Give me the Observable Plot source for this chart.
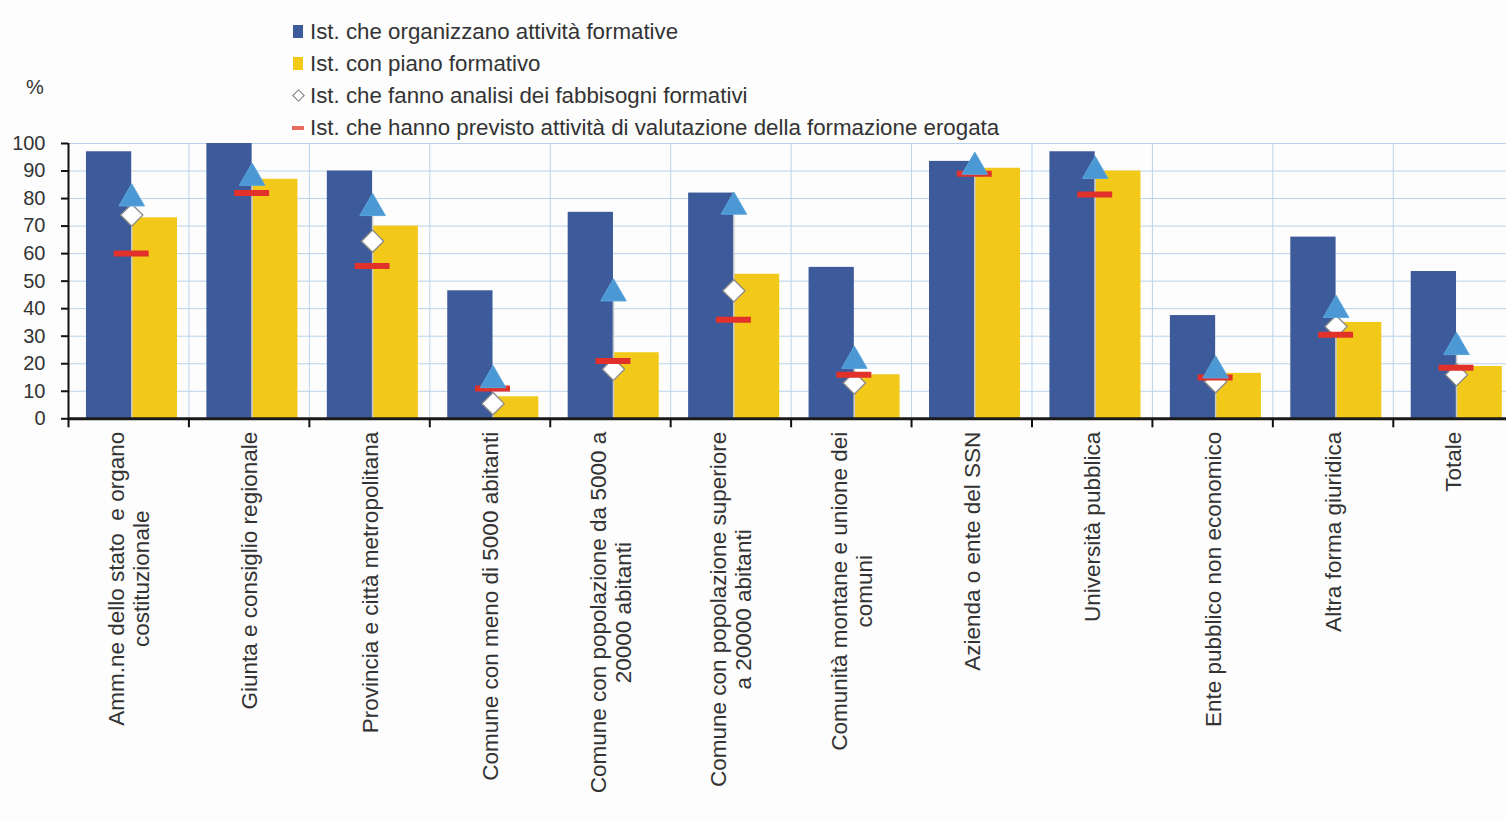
<!DOCTYPE html>
<html>
<head>
<meta charset="utf-8">
<script src="https://cdn.jsdelivr.net/npm/d3@7"></script>
<script src="https://cdn.jsdelivr.net/npm/@observablehq/plot@0.6"></script>
<style>
  body { margin: 0; background: #fdfdfd; font-family: "Liberation Sans", Arial, sans-serif; color: #333; }
  #legend { position: relative; height: 136px; font-size: 22.3px; }
  .item { position: absolute; left: 290px; height: 26px; line-height: 26px; white-space: nowrap; }
  .sym { position: absolute; top: 50%; }
  .txt { position: absolute; left: 20px; top: 0; }
  #pct { position: absolute; left: 26px; top: 76px; font-size: 20px; }
</style>
</head>
<body>
<div id="legend"></div>
<div id="chart"></div>
<script>
const categories = [
  "Amm.ne dello stato  e organo\ncostituzionale",
  "Giunta e consiglio regionale",
  "Provincia e città metropolitana",
  "Comune con meno di 5000 abitanti",
  "Comune con popolazione da 5000 a\n20000 abitanti",
  "Comune con popolazione superiore\na 20000 abitanti",
  "Comunità montane e unione dei\ncomuni",
  "Azienda o ente del SSN",
  "Università pubblica",
  "Ente pubblico non economico",
  "Altra forma giuridica",
  "Totale"
];
const organizzano = [97, 100, 90, 46.5, 75, 82, 55, 93.5, 97, 37.5, 66, 53.5];
const pianoFormativo = [73, 87, 70, 8, 24, 52.5, 16, 91, 90, 16.5, 35, 19];
const triangoli = [80, 87.5, 76.5, 14, 45.5, 77, 21, 91.5, 90, 17.5, 39.5, 26];
const fabbisogni = [74, null, 64.5, 5.5, 18, 46.5, 13, null, null, 13.5, 33.5, 16];
const valutazione = [60, 82, 55.5, 11, 21, 36, 16, 89, 81.5, 15, 30.5, 18.5];
const legendLabels = [
  "Ist. che organizzano attività formative",
  "Ist. con piano formativo",
  "Ist. che fanno analisi dei fabbisogni formativi",
  "Ist. che hanno previsto attività di valutazione della formazione erogata"
];
const yTicks = [0, 10, 20, 30, 40, 50, 60, 70, 80, 90, 100];

const BLUE = "#3d5b9b", YELLOW = "#f2c919", TRI = "#4b98d4", RED = "#e2302a";

// Legend
const legend = document.getElementById("legend");
const symHtml = [
  `<span class="sym" style="left:3px;width:10px;height:13px;margin-top:-7px;background:${BLUE}"></span>`,
  `<span class="sym" style="left:3px;width:10px;height:13px;margin-top:-7px;background:${YELLOW}"></span>`,
  `<span class="sym" style="left:4px;width:7px;height:7px;margin-top:-5px;border:1.5px solid #777;background:#fff;transform:rotate(45deg)"></span>`,
  `<span class="sym" style="left:2px;width:12px;height:4px;margin-top:-2px;background:#e86a5e"></span>`
];
legendLabels.forEach((t, i) => {
  const d = document.createElement("div");
  d.className = "item";
  d.style.top = (19 + 32 * i) + "px";
  d.innerHTML = symHtml[i] + `<span class="txt">${t}</span>`;
  legend.appendChild(d);
});
const pct = document.createElement("div");
pct.id = "pct"; pct.textContent = "%";
legend.appendChild(pct);

const idx = d3.range(categories.length);
const OFF = 0.525;

const chart = Plot.plot({
  width: 1506,
  height: 686,
  marginTop: 7,
  marginBottom: 403.7,
  marginLeft: 68,
  marginRight: 0,
  style: { fontSize: "20px", fontFamily: "'Liberation Sans', Arial, sans-serif", color: "#333", background: "transparent", overflow: "visible" },
  x: { domain: [0, 11.94], axis: null },
  y: { domain: [0, 100], axis: null },
  marks: [
    Plot.gridY(yTicks.filter(d => d > 0), { stroke: "#b9d3ec", strokeOpacity: 1, strokeWidth: 1 }),
    Plot.ruleX(d3.range(1, categories.length), { x: d => d, y1: 0, y2: 100, stroke: "#b9d3ec", strokeWidth: 1 }),
    Plot.rectY(idx, { x1: i => i + 0.149, x2: i => i + OFF, y1: 0, y2: i => organizzano[i], fill: BLUE }),
    Plot.rectY(idx, { x1: i => i + OFF, x2: i => i + 0.905, y1: 0, y2: i => pianoFormativo[i], fill: YELLOW }),
    Plot.ruleX(idx, { x: i => i + OFF, y1: 0, y2: i => triangoli[i], stroke: "#c9c9c9", strokeWidth: 1.5 }),
    Plot.dot(idx.filter(i => fabbisogni[i] != null), { x: i => i + OFF, y: i => fabbisogni[i], symbol: "diamond2", r: 10, fill: "#fff", stroke: "#8a8a8a", strokeWidth: 1.3 }),
    Plot.ruleY(idx, { x1: i => i + OFF - 0.145, x2: i => i + OFF + 0.145, y: i => valutazione[i], stroke: RED, strokeWidth: 6 }),
    Plot.dot(idx, { x: i => i + OFF, y: i => triangoli[i], symbol: "triangle", r: 9.5, fill: TRI, stroke: "#5aa6dc", strokeWidth: 1 }),
    Plot.ruleY([0], { stroke: "#1a1a1a", strokeWidth: 3 }),
    Plot.ruleX([0], { y1: 0, y2: 100, stroke: "#111", strokeWidth: 2 }),
    Plot.axisY({ ticks: yTicks, tickSize: 7, tickPadding: 16, stroke: "#111", strokeWidth: 2, fill: "#333" }),
    Plot.axisX({ ticks: d3.range(0, categories.length), tickSize: 9, tickFormat: () => "", stroke: "#111", strokeWidth: 2 }),
    Plot.axisX({ ticks: idx.map(i => i + 0.5), tickSize: 0, tickPadding: 13, rotate: -90, textAnchor: "end", lineAnchor: "middle", lineHeight: 1.1, fontSize: 22.5, tickFormat: v => categories[Math.round(v - 0.5)], fill: "#333", lineWidth: 100 })
  ]
});
document.getElementById("chart").appendChild(chart);

// center multi-line rotated labels relative to each other
chart.querySelectorAll('g[aria-label="x-axis tick label"] text').forEach(t => {
  const spans = t.querySelectorAll("tspan");
  if (spans.length < 2) return;
  const lens = Array.from(spans, s => s.getComputedTextLength());
  const maxL = Math.max(...lens);
  spans.forEach((s, k) => s.setAttribute("x", -(maxL - lens[k]) / 2));
});
</script>
</body>
</html>
